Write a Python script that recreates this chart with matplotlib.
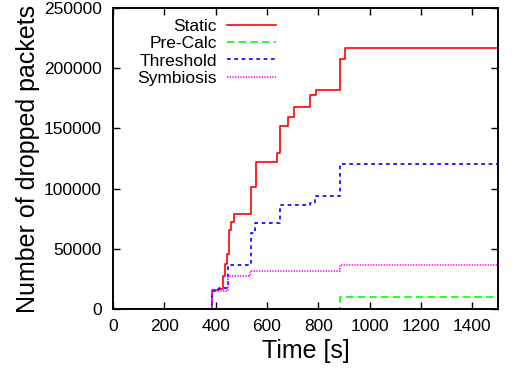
import matplotlib
matplotlib.use("Agg")
import matplotlib.pyplot as plt

plt.rcParams['font.family'] = ['Liberation Sans', 'DejaVu Sans']

# step data (time [s], cumulative dropped packets)
static_t = [0, 386, 410, 428, 436, 443, 450, 458, 473, 536, 556, 638, 649, 683, 704, 767, 789, 884, 904, 1500]
static_v = [0, 15500, 16800, 27000, 37000, 46000, 65600, 72000, 79000, 101600, 122000, 129300, 152300,
            159800, 167800, 177600, 182000, 207600, 216600, 216600]

precalc_t = [0, 884, 1500]
precalc_v = [0, 10200, 10200]

threshold_t = [0, 386, 414, 449, 536, 553, 649, 767, 788, 885, 1500]
threshold_v = [0, 15000, 17500, 36800, 63000, 71200, 86400, 88300, 94000, 120200, 120200]

symbiosis_t = [0, 386, 449, 534, 884, 1500]
symbiosis_v = [0, 15000, 27400, 31800, 36900, 36900]

fig = plt.figure(figsize=(5.17, 3.76), dpi=100)
ax = fig.add_axes([0.2186, 0.1782, 0.7446, 0.8005])

ax.plot(static_t, static_v, drawstyle='steps-post', color='#ff0000', lw=1.2, label='Static')
ax.plot(precalc_t, precalc_v, drawstyle='steps-post', color='#00ff00', lw=1.2,
        dashes=(4.5, 2.5), label='Pre-Calc')
ax.plot(threshold_t, threshold_v, drawstyle='steps-post', color='#0000ff', lw=1.2,
        dashes=(2.2, 2.2), label='Threshold')
ax.plot(symbiosis_t, symbiosis_v, drawstyle='steps-post', color='#ff00ff', lw=1.2,
        dashes=(0.8, 0.8), label='Symbiosis')

ax.set_xlim(0, 1500)
ax.set_ylim(0, 250000)
ax.set_xticks(range(0, 1401, 200))
ax.set_yticks(range(0, 250001, 50000))
ax.tick_params(direction='in', top=True, right=True, length=5, width=1, labelsize=12.5)
ax.tick_params(axis='y', pad=8)
ax.tick_params(axis='x', pad=7)
for s in ax.spines.values():
    s.set_linewidth(1.4)
    s.set_zorder(3)

ax.set_xlabel('Time [s]', fontsize=18, labelpad=4)
ax.set_ylabel('Number of dropped packets', fontsize=18, labelpad=3)

ax.legend(loc='upper right', bbox_to_anchor=(0.423, 0.965), frameon=False, fontsize=12.5,
          markerfirst=False, handlelength=2.8, handletextpad=0.6, labelspacing=0.13,
          borderpad=0, borderaxespad=0)

fig.savefig('out.png', dpi=100)
